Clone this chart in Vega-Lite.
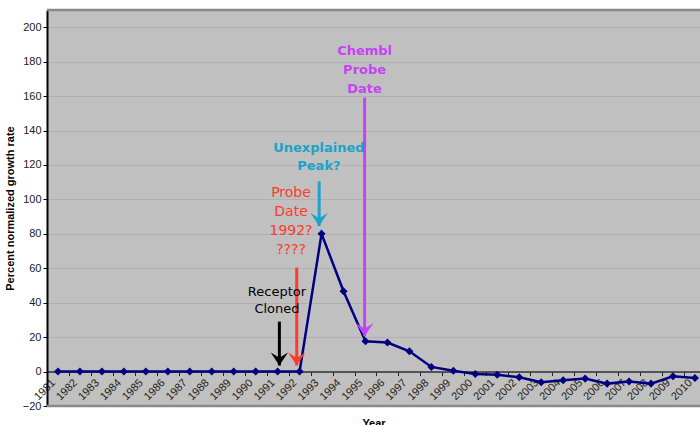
{
  "$schema": "https://vega.github.io/schema/vega-lite/v6.json",
  "width": 653,
  "height": 396,
  "autosize": {"type": "none"},
  "padding": {"left": 47, "top": 10, "right": 0, "bottom": 19},
  "background": "white",
  "config": {
    "view": {"stroke": null, "fill": "#C0C0C0"},
    "font": "Liberation Sans",
    "axis": {"labelOverlap": false, "labelFlush": false, "labelBound": false}
  },
  "datasets": {
    "growth": [
      {"year": 1981, "value": 0}, {"year": 1982, "value": 0}, {"year": 1983, "value": 0},
      {"year": 1984, "value": 0}, {"year": 1985, "value": 0}, {"year": 1986, "value": 0},
      {"year": 1987, "value": 0}, {"year": 1988, "value": 0}, {"year": 1989, "value": 0},
      {"year": 1990, "value": 0}, {"year": 1991, "value": 0}, {"year": 1992, "value": 0},
      {"year": 1993, "value": 80}, {"year": 1994, "value": 46.7}, {"year": 1995, "value": 17.6},
      {"year": 1996, "value": 16.9}, {"year": 1997, "value": 11.8}, {"year": 1998, "value": 2.7},
      {"year": 1999, "value": 0.5}, {"year": 2000, "value": -1.4}, {"year": 2001, "value": -1.8},
      {"year": 2002, "value": -3.3}, {"year": 2003, "value": -6.2}, {"year": 2004, "value": -5.0},
      {"year": 2005, "value": -4.1}, {"year": 2006, "value": -7.0}, {"year": 2007, "value": -5.8},
      {"year": 2008, "value": -7.0}, {"year": 2009, "value": -2.7}, {"year": 2010, "value": -3.7}
    ],
    "arrows": [
      {"note": "Receptor", "year": 1991.08, "value": 29, "value2": 3.5},
      {"note": "Probe", "year": 1991.87, "value": 60.4, "value2": 3.5},
      {"note": "Peak", "year": 1992.89, "value": 110.4, "value2": 84.5},
      {"note": "Chembl", "year": 1994.96, "value": 159.1, "value2": 20.5}
    ],
    "notes": [
      {"note": "Receptor", "year": 1990.97, "value": 46.5, "label": "Receptor\nCloned"},
      {"note": "Probe", "year": 1991.61, "value": 104.0, "label": "Probe\nDate\n1992?\n????"},
      {"note": "Peak", "year": 1992.88, "value": 130.1, "label": "Unexplained\nPeak?"},
      {"note": "Chembl", "year": 1994.96, "value": 185.9, "label": "Chembl\nProbe\nDate"}
    ],
    "frame": [{"value": 210}, {"value": -20}]
  },
  "layer": [
    {
      "data": {"name": "growth"},
      "mark": {"type": "line", "color": "#000080", "strokeWidth": 2.5,
        "point": {"shape": "diamond", "size": 65, "filled": true, "color": "#000080"}},
      "encoding": {
        "x": {"field": "year", "type": "quantitative",
          "scale": {"domain": [1980.5, 2010.23], "nice": false, "zero": false},
          "axis": {
            "title": "Year", "titleFontSize": 11, "titleFontWeight": "bold", "titleColor": "#000",
            "titleY": 46, "titleBaseline": "top",
            "values": [1981,1982,1983,1984,1985,1986,1987,1988,1989,1990,1991,1992,1993,1994,1995,1996,1997,1998,1999,2000,2001,2002,2003,2004,2005,2006,2007,2008,2009,2010],
            "tickCount": 100,
            "format": "d", "labelAngle": -45, "labelFontSize": 11, "labelColor": "#222",
            "offset": -34.43, "tickOffset": 11, "labelOffset": -20, "labelPadding": 1,
            "labelOverlap": false, "labelFlush": false, "labelBound": false,
            "domainColor": "#333", "domainWidth": 1.5, "tickColor": "#222", "tickSize": 4, "grid": false
          }},
        "y": {"field": "value", "type": "quantitative",
          "scale": {"domain": [-20, 210], "nice": false, "zero": false},
          "axis": {
            "title": "Percent normalized growth rate", "titleFontSize": 11, "titleFontWeight": "bold",
            "titleColor": "#000", "titleX": -37, "titleBaseline": "middle",
            "values": [-20, 0, 20, 40, 60, 80, 100, 120, 140, 160, 180, 200],
            "tickCount": 100,
            "labelFontSize": 11, "labelColor": "#222", "labelPadding": 2, "labelOverlap": false,
            "domainColor": "#000", "domainWidth": 2, "tickColor": "#000", "tickSize": 4,
            "grid": true, "gridColor": "#B0B0B0", "gridWidth": 1
          }}
      }
    },
    {
      "data": {"name": "frame"},
      "mark": {"type": "rule", "color": "#8A8A8A", "strokeWidth": 2.5},
      "encoding": {
        "y": {"field": "value", "type": "quantitative"}
      }
    },
    {
      "data": {"name": "arrows"},
      "mark": {"type": "rule", "strokeWidth": 3},
      "encoding": {
        "x": {"field": "year", "type": "quantitative"},
        "y": {"field": "value", "type": "quantitative"},
        "y2": {"field": "value2"},
        "color": {"field": "note", "type": "nominal", "legend": null,
          "scale": {"domain": ["Receptor", "Probe", "Peak", "Chembl"], "range": ["#000000", "#FF3B2A", "#1BA3C9", "#C444F5"]}}
      }
    },
    {
      "data": {"name": "arrows"},
      "mark": {"type": "point", "filled": true, "opacity": 1, "size": 300,
        "shape": "M0,0 L-1,-1.5 L0,-0.9 L1,-1.5 Z"},
      "encoding": {
        "x": {"field": "year", "type": "quantitative"},
        "y": {"field": "value2", "type": "quantitative"},
        "color": {"field": "note", "type": "nominal", "legend": null}
      }
    },
    {
      "data": {"name": "notes"},
      "transform": [{"filter": "datum.note === 'Receptor'"}],
      "mark": {"type": "text", "font": "DejaVu Sans", "fontSize": 13, "lineBreak": "\n", "lineHeight": 17, "align": "center", "baseline": "middle"},
      "encoding": {
        "x": {"field": "year", "type": "quantitative"},
        "y": {"field": "value", "type": "quantitative"},
        "text": {"field": "label"},
        "color": {"field": "note", "type": "nominal", "legend": null}
      }
    },
    {
      "data": {"name": "notes"},
      "transform": [{"filter": "datum.note === 'Probe'"}],
      "mark": {"type": "text", "font": "DejaVu Sans", "fontSize": 14, "lineBreak": "\n", "lineHeight": 19, "align": "center", "baseline": "middle"},
      "encoding": {
        "x": {"field": "year", "type": "quantitative"},
        "y": {"field": "value", "type": "quantitative"},
        "text": {"field": "label"},
        "color": {"field": "note", "type": "nominal", "legend": null}
      }
    },
    {
      "data": {"name": "notes"},
      "transform": [{"filter": "datum.note === 'Peak' || datum.note === 'Chembl'"}],
      "mark": {"type": "text", "font": "DejaVu Sans", "fontSize": 13, "fontWeight": "bold", "lineBreak": "\n", "lineHeight": 18.7, "align": "center", "baseline": "middle"},
      "encoding": {
        "x": {"field": "year", "type": "quantitative"},
        "y": {"field": "value", "type": "quantitative"},
        "text": {"field": "label"},
        "color": {"field": "note", "type": "nominal", "legend": null}
      }
    }
  ]
}
